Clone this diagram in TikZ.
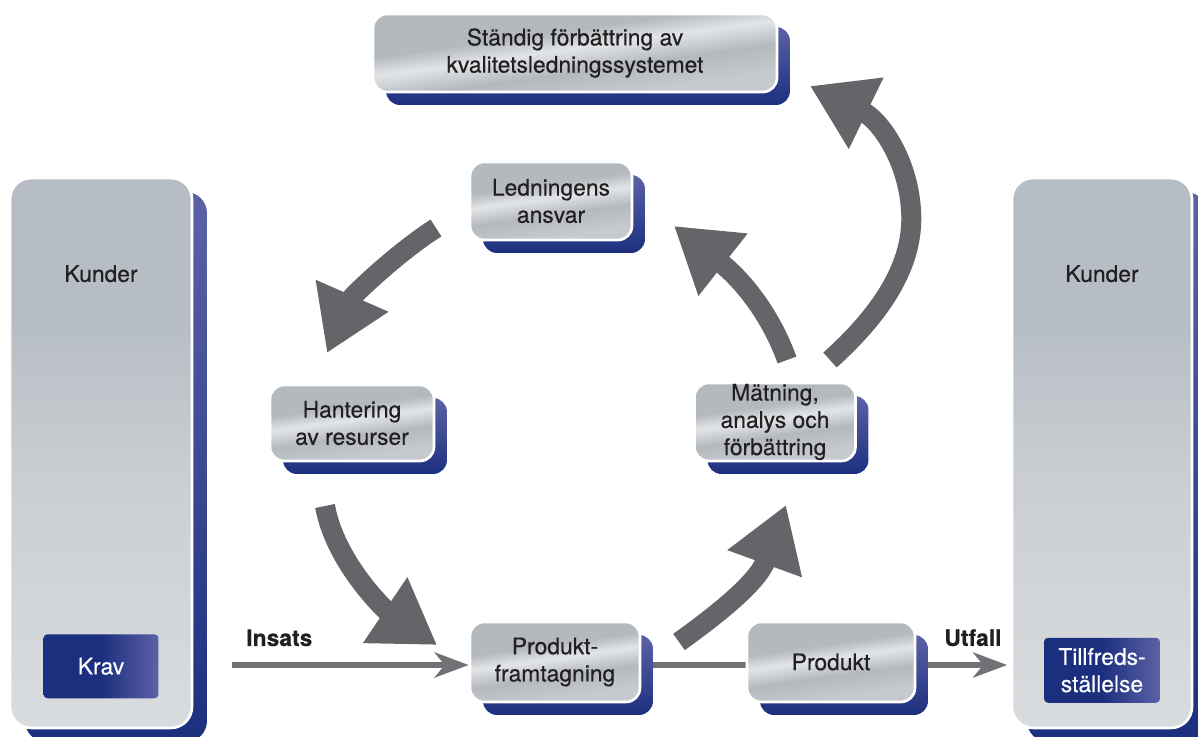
\documentclass[tikz,border=0pt]{standalone}
\usepackage{fontspec}
\setmainfont{TeX Gyre Heros}[FakeBold=0.35]
\usetikzlibrary{arrows.meta,positioning,backgrounds}

\definecolor{navy}{RGB}{28,47,127}
\definecolor{lavender}{RGB}{92,98,166}
\definecolor{fatgray}{RGB}{100,101,104}
\definecolor{linegray}{RGB}{112,114,117}
\definecolor{ink}{RGB}{35,31,32}
\definecolor{svA}{RGB}{180,185,190}
\definecolor{svB}{RGB}{198,202,206}
\definecolor{svL}{RGB}{226,229,232}
\definecolor{pnT}{RGB}{182,189,196}
\definecolor{pnM}{RGB}{202,206,210}
\definecolor{pnB}{RGB}{217,220,223}

\pgfdeclareverticalshading{silver}{100bp}{color(0bp)=(svB); color(30bp)=(svB); color(42bp)=(svA); color(52bp)=(svL); color(60bp)=(svA); color(72bp)=(svA); color(100bp)=(svA)}
\pgfdeclareverticalshading{panel}{100bp}{color(0bp)=(pnB); color(25bp)=(pnB); color(48bp)=(pnM); color(62bp)=(pnT); color(100bp)=(pnT)}

\begin{document}
\begin{tikzpicture}[x=0.02cm,y=-0.02cm,
    font=\fontsize{13}{15.5}\selectfont, text=ink,
    navyshadow/.style={preaction={top color=lavender, bottom color=navy,
        transform canvas={shift={#1}}}},
    box/.style={draw=white, line width=1.5pt, rounded corners=0.28cm,
        shading=silver, shading angle=8, align=center, inner sep=0pt,
        navyshadow={(13,13)}},
    panelbox/.style={draw=white, line width=1.5pt, rounded corners=0.42cm,
        shading=panel, inner sep=0pt, navyshadow={(15,14)}},
    bluebox/.style={left color=navy, right color=lavender, middle color=navy,
        rounded corners=0.08cm, text=white, align=center, inner sep=0pt},
    txt/.style={inner sep=0pt},
    lbl/.style={font=\fontsize{13}{15.5}\selectfont\bfseries, inner sep=0pt},
    fat/.style={line width=0.4cm, draw=fatgray,
        -{Triangle[length=1.25cm 0 1, width=1.5cm 0 1]}},
    flow/.style={line width=0.12cm, draw=linegray},
    flowarrow/.style={flow, -{Stealth[length=0.68cm 0 1, width=0.5cm 0 1, inset=0.2cm 0 1]}}]
\useasboundingbox (0,0) rectangle (1198,737);

% customers, left and right
\node[panelbox, minimum width=3.64cm, minimum height=11cm] (kunL) at (101,453) {};
\node[panelbox, minimum width=3.6cm, minimum height=11cm] (kunR) at (1102,453) {};
\node[txt] (kunLt) at ([yshift=-1.94cm]kunL.north) {Kunder};
\node[txt] (kunRt) at ([yshift=-1.94cm]kunR.north) {Kunder};
\node[bluebox, minimum width=2.3cm, minimum height=1.28cm] (krav) at ([yshift=1.26cm]kunL.south) {Krav};
\node[bluebox, minimum width=2.32cm, minimum height=1.3cm] (nojd) at ([yshift=1.18cm]kunR.south) {Tillfreds-\\ställelse};

% process boxes
\node[box, minimum width=8.08cm, minimum height=1.56cm] (sys) at (575,53) {Ständig förbättring av\\kvalitetsledningssystemet};
\node[box, minimum width=3.24cm, minimum height=1.56cm] (led) at (551,201) {Ledningens\\ansvar};
\node[box, minimum width=3.28cm, minimum height=1.52cm] (han) at (352,423) {Hantering\\av resurser};
\node[box, minimum width=3.22cm, minimum height=1.56cm] (mat) at (775,422) {Mätning,\\analys och\\förbättring};
\node[box, minimum width=3.4cm, minimum height=1.6cm] (pf) at (555,662) {Produkt-\\framtagning};
\node[box, minimum width=3.36cm, minimum height=1.6cm] (prod) at (831,662) {Produkt};

% free ends of the connectors
\coordinate (insS) at (232,665);
\coordinate (ledOut) at (436,228);
\coordinate (hanIn) at (327,353);
\coordinate (hanOut) at (325,506);
\coordinate (pfIn) at (437,645);
\coordinate (pfOut) at (679,642);
\coordinate (matIn) at (786,505);
\coordinate (matOut) at (787,360);
\coordinate (ledIn) at (674,226);
\coordinate (sysOut) at (830,360);
\coordinate (sysIn) at (810,86);

% the cycle
\draw[fat] (ledOut) .. controls (398,252) and (352,296) .. (hanIn);
\draw[fat] (hanOut) .. controls (335,562) and (385,610) .. (pfIn);
\draw[fat] (pfOut) .. controls (718,614) and (758,582) .. (matIn);
\draw[fat] (matOut) .. controls (772,318) and (745,282) .. (ledIn);
\draw[fat] (sysOut) .. controls (880,315) and (915,265) .. (911,210)
    .. controls (908,160) and (880,120) .. (sysIn);

\begin{scope}[on background layer]
\draw[flowarrow] (insS) -- (insS -| pf.west) node[lbl, pos=0.2, above=9pt] (insL) {Insats};
\draw[flow] (insS -| pf.east) -- (insS -| prod.west);
\draw[flowarrow, shorten >=2pt] (insS -| prod.east) -- (insS -| kunR.west) node[lbl, pos=0.6, above=9pt] (utL) {Utfall};
\end{scope}
\end{tikzpicture}
\end{document}
